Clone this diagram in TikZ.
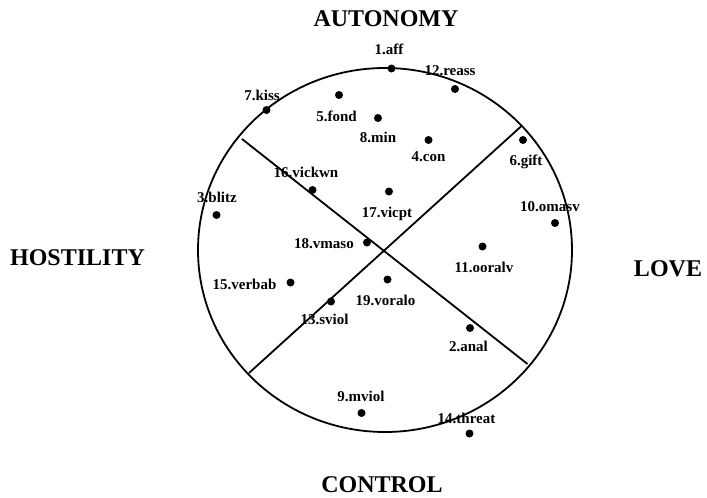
\documentclass[tikz,border=0pt]{standalone}
\usepackage{fontspec}
\setmainfont{Liberation Serif}
\begin{document}
\begin{tikzpicture}[x=1pt,y=-1pt,
  dot/.style={circle,fill=black,inner sep=0pt,minimum size=8pt},
  lab/.style={inner sep=0pt,anchor=base,font=\fontsize{15}{15}\selectfont\bfseries},
  title/.style={inner sep=0pt,anchor=base,text depth=0pt,font=\fontsize{24}{24}\selectfont\bfseries},
  rim/.style={line width=1.8pt},
  divider/.style={line width=1.8pt}]
\useasboundingbox (0,0) rectangle (707,498);
% circle
\draw[rim] (385,250) ellipse [x radius=187, y radius=182];
% dividers
\coordinate (ul) at (242,139);
\coordinate (lr) at (527.5,364);
\coordinate (ur) at (521.5,126);
\coordinate (ll) at (249,373);
\draw[divider] (ul) -- (lr);
\draw[divider] (ur) -- (ll);
% titles
\node[title] (tA) at (386,26.5) {AUTONOMY};
\node[title] (tC) at (382,492) {CONTROL};
\node[title] (tH) at (77.5,265) {HOSTILITY};
\node[title] (tL) at (668,276.5) {LOVE};
% dots
\node[dot] (d1) at (391.5,68.5) {};
\node[dot] (d12) at (455,89) {};
\node[dot] (d7) at (266.5,110) {};
\node[dot] (d5) at (339,95) {};
\node[dot] (d8) at (378,118) {};
\node[dot] (d4) at (428.5,140) {};
\node[dot] (d6) at (523,140) {};
\node[dot] (d16) at (312.5,190) {};
\node[dot] (d17) at (389,191.5) {};
\node[dot] (d3) at (216.5,215) {};
\node[dot] (d10) at (555,223) {};
\node[dot] (d18) at (367,242.5) {};
\node[dot] (d11) at (482.5,246.5) {};
\node[dot] (d15) at (290.5,282.5) {};
\node[dot] (d19) at (387.5,279.5) {};
\node[dot] (d13) at (331,301.5) {};
\node[dot] (d2) at (470,328) {};
\node[dot] (d9) at (361.5,413) {};
\node[dot] (d14) at (469.5,433.5) {};
% labels
\node[lab] (l1) at (389,54) {1.aff};
\node[lab] (l12) at (450,75) {12.reass};
\node[lab] (l7) at (262,100) {7.kiss};
\node[lab] (l5) at (336.5,121.5) {5.fond};
\node[lab] (l8) at (378,142) {8.min};
\node[lab] (l4) at (428.5,161) {4.con};
\node[lab] (l6) at (526,165) {6.gift};
\node[lab] (l16) at (306,177) {16.vickwn};
\node[lab] (l17) at (387,217) {17.vicpt};
\node[lab] (l3) at (217,202) {3.blitz};
\node[lab] (l10) at (550,211) {10.omasv};
\node[lab] (l18) at (324,248) {18.vmaso};
\node[lab] (l11) at (484,272) {11.ooralv};
\node[lab] (l15) at (244.5,289) {15.verbab};
\node[lab] (l19) at (385.5,305.5) {19.voralo};
\node[lab] (l13) at (324.5,324) {13.sviol};
\node[lab] (l2) at (468.5,351.5) {2.anal};
\node[lab] (l9) at (361,401) {9.mviol};
\node[lab] (l14) at (466.5,423) {14.threat};
\end{tikzpicture}
\end{document}
